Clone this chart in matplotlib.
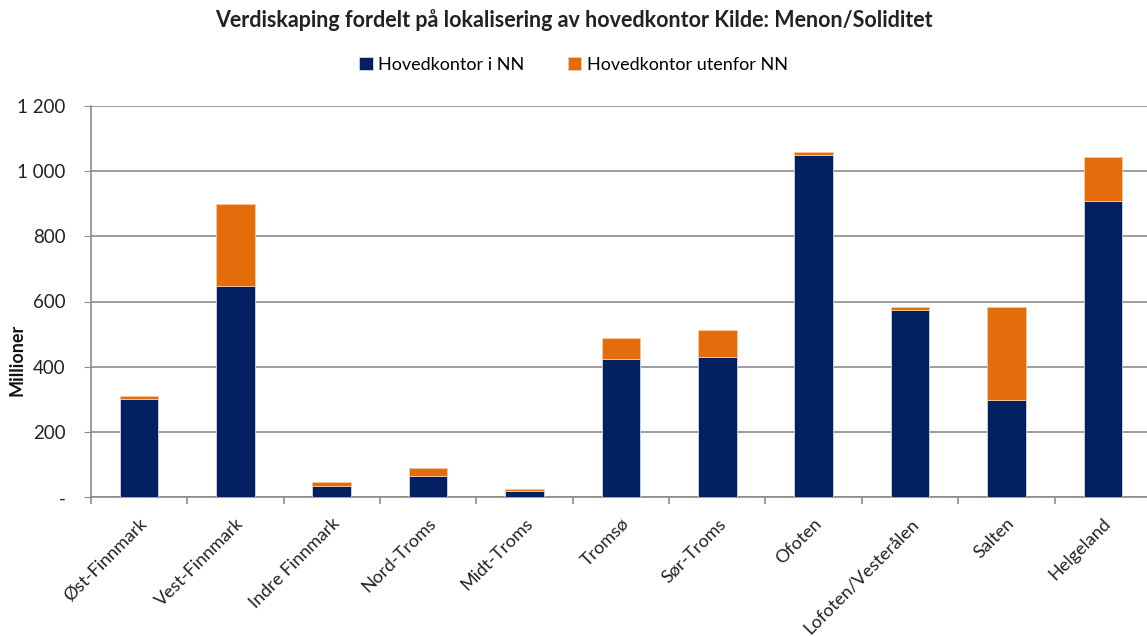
import numpy as np
import matplotlib.pyplot as plt

plt.rcParams['font.family'] = ['Lato', 'DejaVu Sans']

regions = ['Øst-Finnmark', 'Vest-Finnmark', 'Indre Finnmark', 'Nord-Troms', 'Midt-Troms',
           'Tromsø', 'Sør-Troms', 'Ofoten', 'Lofoten/Vesterålen', 'Salten', 'Helgeland']
inside_nn = [300, 646, 35, 66, 20, 424, 429, 1049, 575, 299, 909]
outside_nn = [11, 253, 11, 25, 4, 63, 83, 10, 9, 283, 135]

navy = '#002060'
orange = '#E46C0A'
grid_col = '#8c8c8c'

fig = plt.figure(figsize=(11.47, 6.37), dpi=100)
ax = fig.add_axes([90.8 / 1147, 1 - 497.3 / 637, (1151 - 90.8) / 1147, (497.3 - 105.7) / 637])

x = np.arange(len(regions))
ax.bar(x, inside_nn, width=0.4, color=navy, edgecolor='#d0d6e4', linewidth=0.6,
       label='Hovedkontor i NN', zorder=3)
ax.bar(x, outside_nn, width=0.4, bottom=inside_nn, color=orange, edgecolor='#f5c9a3',
       linewidth=0.6, label='Hovedkontor utenfor NN', zorder=3)

ax.set_xlim(-0.5, len(regions) - 0.5)
ax.set_ylim(0, 1200)
yt = np.arange(0, 1201, 200)
ax.set_yticks(yt)
ax.set_yticklabels(['-'] + ['{:,}'.format(v).replace(',', ' ') for v in yt[1:]], fontsize=13.5,
                   color='#222222')
ax.yaxis.grid(True, color=grid_col, linewidth=1.2, zorder=0)
ax.tick_params(axis='y', length=5, color=grid_col, pad=13)

ax.set_xticks(x)
ax.set_xticklabels(regions, rotation=45, ha='right', rotation_mode='anchor', fontsize=13,
                   color='#222222')
ax.set_xticks(np.arange(-0.5, len(regions)), minor=True)
ax.tick_params(axis='x', which='major', length=0, pad=13)
ax.tick_params(axis='x', which='minor', length=5, color=grid_col, width=1.2)

for s in ['top', 'right']:
    ax.spines[s].set_visible(False)
for s in ['left', 'bottom']:
    ax.spines[s].set_color(grid_col)
    ax.spines[s].set_linewidth(1.2)

fig.text(17 / 1147, 1 - 360 / 637, 'Millioner', rotation=90, ha='center', va='center',
         fontsize=13, fontweight='bold', color='#111111')

fig.text(0.5, 1 - 20 / 637, 'Verdiskaping fordelt på lokalisering av hovedkontor Kilde: Menon/Soliditet',
         ha='center', va='center', fontsize=15.5, fontweight='bold', color='#222222')
fig.legend(loc='center', bbox_to_anchor=(0.5, 1 - 65 / 637), ncol=2, frameon=False,
           fontsize=13, handlelength=0.75, handleheight=0.75, columnspacing=2.4, handletextpad=0.3)

fig.savefig('out.png', dpi=100)
